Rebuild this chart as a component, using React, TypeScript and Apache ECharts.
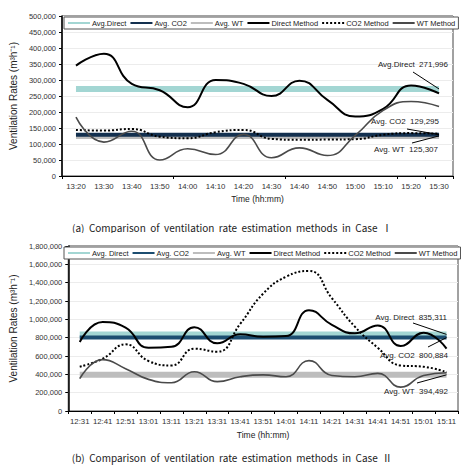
import React, { useEffect, useRef } from "react";
import * as echarts from "echarts";

// ---------- Case I ----------
const timesA = ["13:20", "13:30", "13:40", "13:50", "14:00", "14:10", "14:20", "14:30", "14:40", "14:50", "15:00", "15:10", "15:20", "15:30"];
const directA = [345000, 382000, 288000, 268000, 215000, 300000, 288000, 250000, 298000, 238000, 186000, 210000, 283000, 258000];
const co2A = [144000, 142000, 147000, 123000, 118000, 137000, 144000, 116000, 113000, 114000, 115000, 129000, 134000, 132000];
const wtA = [184000, 106000, 140000, 50000, 85000, 67000, 130000, 57000, 88000, 64000, 127000, 205000, 233000, 217000];
const avgDirectA = 271996;
const avgCO2A = 129295;
const avgWTA = 125307;
const legendNamesA = ["Avg.Direct", "Avg. CO2", "Avg. WT", "Direct Method", "CO2 Method", "WT Method"];
const yTicksA = { max: 500000, interval: 50000 };

// ---------- Case II ----------
const timesB = ["12:31", "12:41", "12:51", "13:01", "13:11", "13:21", "13:31", "13:41", "13:51", "14:01", "14:11", "14:21", "14:31", "14:41", "14:51", "15:01", "15:11"];
const directB = [752000, 970000, 909000, 690000, 700000, 915000, 738000, 836000, 810000, 817000, 1100000, 940000, 847000, 934000, 708000, 855000, 680000];
const co2B = [483000, 570000, 727000, 545000, 497000, 680000, 647000, 950000, 1280000, 1465000, 1527000, 1230000, 920000, 690000, 497000, 483000, 424000];
const wtB = [352000, 560000, 462000, 345000, 309000, 429000, 320000, 374000, 394000, 374000, 550000, 388000, 374000, 410000, 261000, 388000, 418000];
const avgDirectB = 835311;
const avgCO2B = 800884;
const avgWTB = 394492;
const legendNamesB = ["Avg. Direct", "Avg. CO2", "Avg. WT", "Direct Method", "CO2 Method", "WT Method"];
const yTicksB = { max: 1800000, interval: 200000 };

const captionA = "(a)  Comparison  of  ventilation  rate  estimation  methods  in  Case  Ⅰ";
const captionB = "(b)  Comparison  of  ventilation  rate  estimation  methods  in  Case  Ⅱ";

const FONT = "'Liberation Sans', Arial, sans-serif";
const CJK = "'Noto Sans CJK KR', 'Noto Sans', sans-serif";
const fmt = (v: number) => v.toLocaleString("en-US");

type Panel = {
  times: string[];
  direct: number[];
  co2: number[];
  wt: number[];
  avgDirect: number;
  avgCO2: number;
  avgWT: number;
  names: string[];
  yTicks: { max: number; interval: number };
  caption: string;
};

type Layout = {
  grid: { left: number; right: number; top: number; height: number };
  legendTop: number;
  tickInterval: number;
  navy: string;
  xNameGap: number;
  captionY: number;
  // label text anchor (right edge, middle) and leader start for each average
  notes: { x: number; y: number; lx: number; ly: number }[];
};

function buildOption(p: Panel, L: Layout) {
  const last = p.times[p.times.length - 1];
  const avgs = [
    { name: p.names[0], value: p.avgDirect, color: "#a3d6d3", width: 6 },
    { name: p.names[1], value: p.avgCO2, color: L.navy, width: 4 },
    { name: p.names[2], value: p.avgWT, color: "#bdbdbd", width: 6 },
  ];
  const avgSeries = avgs.map((a, i) => ({
    type: "line",
    name: a.name,
    data: p.times.map(() => a.value),
    symbol: "none",
    z: i === 2 ? 1 : i === 0 ? 2 : 3,
    lineStyle: { color: a.color, width: a.width },
    itemStyle: { color: a.color },
    markLine: {
      silent: true,
      symbol: "none",
      label: { show: false },
      lineStyle: { color: "#000", width: 1, type: "solid" },
      data: [[{ x: L.notes[i].lx, y: L.notes[i].ly }, { coord: [last, a.value] }]],
    },
  }));
  const methodSeries = [
    { name: p.names[3], data: p.direct, color: "#000", width: 2, type: "solid" },
    { name: p.names[4], data: p.co2, color: "#000", width: 2, type: [2, 2] },
    { name: p.names[5], data: p.wt, color: "#4a4a4a", width: 1.6, type: "solid" },
  ].map((m) => ({
    type: "line",
    name: m.name,
    data: m.data,
    smooth: 0.5,
    smoothConstraint: false,
    symbol: "none",
    z: 5,
    lineStyle: { color: m.color, width: m.width, type: m.type },
    itemStyle: { color: m.color },
  }));

  const noteTexts = [
    `${p.names[0]}\u00a0\u00a0${fmt(p.avgDirect)}`,
    `${p.names[1]}\u00a0\u00a0${fmt(p.avgCO2)}`,
    `${p.names[2]}\u00a0\u00a0${fmt(p.avgWT)}`,
  ];

  return {
    animation: false,
    backgroundColor: "#fff",
    textStyle: { fontFamily: FONT },
    grid: { ...L.grid, show: true, borderColor: "#444", borderWidth: 1, backgroundColor: "transparent" },
    legend: {
      data: p.names,
      left: L.grid.left + 2,
      top: L.legendTop,
      padding: [2, 3],
      itemGap: 3,
      itemWidth: 22,
      itemHeight: 6,
      borderColor: "#555",
      borderWidth: 1,
      backgroundColor: "#fff",
      itemStyle: { opacity: 0 },
      textStyle: { fontSize: 7.5, color: "#222", fontFamily: FONT, padding: [0, 0, 0, -3] },
    },
    xAxis: {
      type: "category",
      data: p.times,
      boundaryGap: true,
      axisLine: { lineStyle: { color: "#000", width: 1 } },
      axisTick: { show: true, interval: L.tickInterval, length: 3, lineStyle: { color: "#000" } },
      axisLabel: { fontSize: 7.8, color: "#333", margin: 6, interval: 0, fontFamily: FONT },
      name: "Time (hh:mm)",
      nameLocation: "middle",
      nameGap: L.xNameGap,
      nameTextStyle: { fontSize: 8.5, color: "#222", fontFamily: FONT },
    },
    yAxis: {
      type: "value",
      min: 0,
      max: p.yTicks.max,
      interval: p.yTicks.interval,
      axisLine: { show: true, lineStyle: { color: "#000", width: 1.5 } },
      axisTick: { show: true, length: 3, lineStyle: { color: "#000" } },
      axisLabel: { fontSize: 7.5, color: "#333", margin: 6, formatter: fmt, fontFamily: FONT },
      splitLine: { lineStyle: { color: "#ececec", width: 1 } },
      name: "Ventilation Rates (m³h⁻¹)",
      nameLocation: "middle",
      nameGap: 37,
      nameRotate: 90,
      nameTextStyle: { fontSize: 10, color: "#222", fontFamily: FONT },
    },
    series: [avgSeries[2], avgSeries[0], avgSeries[1], ...methodSeries],
    graphic: [
      ...L.notes.map((n, i) => ({
        type: "text",
        x: n.x,
        y: n.y,
        z: 10,
        style: {
          text: noteTexts[i],
          fontSize: 8,
          fontFamily: FONT,
          fill: "#222",
          align: "right",
          verticalAlign: "middle",
        },
      })),
      {
        type: "text",
        x: 232,
        y: L.captionY,
        style: {
          text: p.caption,
          fontSize: 10,
          fontFamily: CJK,
          fill: "#222",
          align: "center",
          verticalAlign: "middle",
        },
      },
    ],
  };
}

const panelA: Panel = {
  times: timesA, direct: directA, co2: co2A, wt: wtA,
  avgDirect: avgDirectA, avgCO2: avgCO2A, avgWT: avgWTA,
  names: legendNamesA, yTicks: yTicksA, caption: captionA,
};
const panelB: Panel = {
  times: timesB, direct: directB, co2: co2B, wt: wtB,
  avgDirect: avgDirectB, avgCO2: avgCO2B, avgWT: avgWTB,
  names: legendNamesB, yTicks: yTicksB, caption: captionB,
};

const layoutA: Layout = {
  grid: { left: 62, right: 15, top: 16, height: 160 },
  legendTop: 17,
  tickInterval: 3,
  navy: "#13304f",
  xNameGap: 18,
  captionY: 227,
  notes: [
    { x: 448, y: 64, lx: 413, ly: 72 },
    { x: 439, y: 121, lx: 407, ly: 129 },
    { x: 438, y: 149, lx: 412, ly: 143 },
  ],
};
const layoutB: Layout = {
  grid: { left: 62, right: 10, top: 13, height: 165 },
  legendTop: 14,
  tickInterval: 0,
  navy: "#1c4d70",
  xNameGap: 19,
  captionY: 224,
  notes: [
    { x: 447, y: 84, lx: 413, ly: 90 },
    { x: 448, y: 122, lx: 428, ly: 114 },
    { x: 448, y: 158, lx: 417, ly: 150 },
  ],
};

function ChartPanel({ panel, layout, top }: { panel: Panel; layout: Layout; top: number }) {
  const ref = useRef<HTMLDivElement>(null);
  useEffect(() => {
    if (!ref.current) return;
    const chart = echarts.init(ref.current, undefined, { renderer: "svg" });
    chart.setOption(buildOption(panel, layout) as any);
    return () => chart.dispose();
  }, [panel, layout]);
  return (
    <div
      ref={ref}
      style={{ position: "absolute", left: 0, top, width: 468, height: 233 }}
    />
  );
}

export default function App() {
  return (
    <div style={{ position: "fixed", left: 0, top: 0, width: 468, height: 466, background: "#fff" }}>
      <ChartPanel panel={panelA} layout={layoutA} top={0} />
      <ChartPanel panel={panelB} layout={layoutB} top={233} />
    </div>
  );
}
